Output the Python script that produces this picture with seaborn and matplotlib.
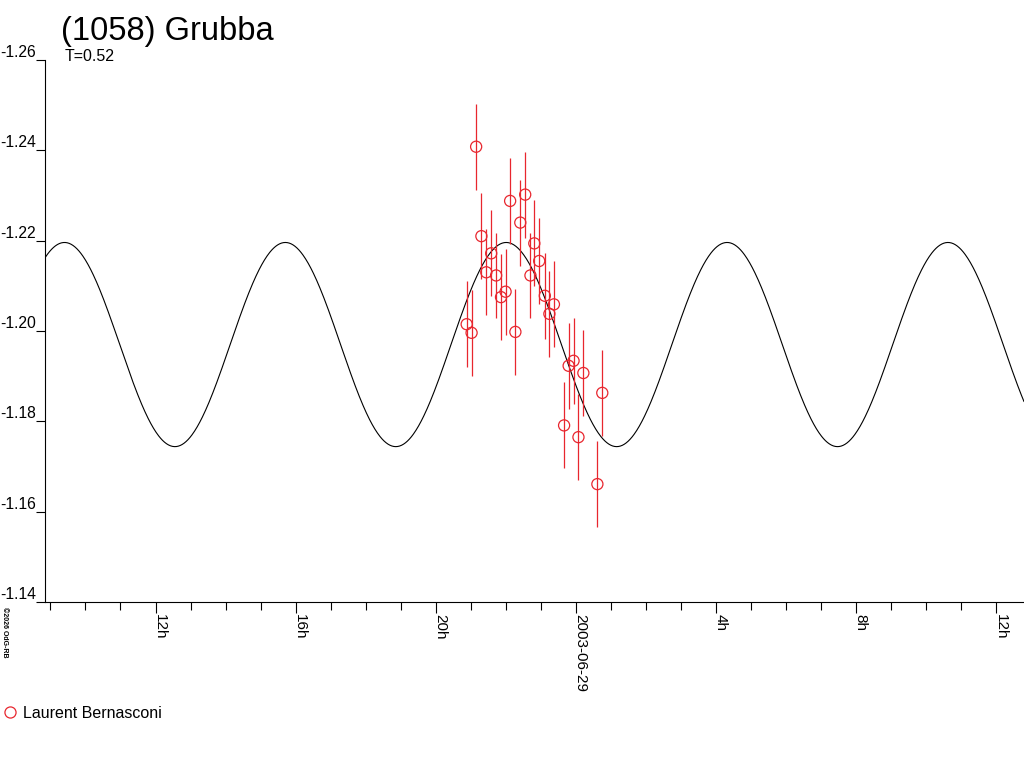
import numpy as np
import matplotlib
matplotlib.use('Agg')
import matplotlib.pyplot as plt
import matplotlib.transforms as mtransforms
from matplotlib.lines import Line2D
import seaborn as sns

# Observations, hours relative to 2003-06-29 00:00 UT
obs_hours = [-3.12, -2.98, -2.85, -2.70, -2.56, -2.42, -2.28, -2.14, -2.01,
             -1.88, -1.73, -1.59, -1.45, -1.30, -1.19, -1.05, -0.89, -0.76,
             -0.63, -0.34, -0.21, -0.07, 0.07, 0.21, 0.61, 0.75]
obs_mag = [-1.2015, -1.1996, -1.2408, -1.2210, -1.2130, -1.2172, -1.2123,
           -1.2075, -1.2087, -1.2288, -1.1998, -1.2240, -1.2302, -1.2123,
           -1.2194, -1.2155, -1.2078, -1.2038, -1.2059, -1.1791, -1.1923,
           -1.1934, -1.1765, -1.1907, -1.1661, -1.1863]
obs_err = [0.0095] * len(obs_hours)

# fitted lightcurve model
model_mean = -1.197
model_amp = 0.0226
model_period_h = 6.303
model_min_epoch_h = 1.16   # hour of faintest point

observer = 'Laurent Bernasconi'
title = '(1058) Grubba'
subtitle = 'T=0.52'

major_ticks = [-12, -8, -4, 0, 4, 8, 12]
major_labels = ['12h', '16h', '20h', '2003-06-29', '4h', '8h', '12h']
y_ticks = [-1.26, -1.24, -1.22, -1.20, -1.18, -1.16, -1.14]

red = '#e8262e'

sns.set_style('white')
plt.rcParams['font.family'] = ['Liberation Sans', 'DejaVu Sans']
plt.rcParams['text.color'] = 'black'
plt.rcParams['xtick.color'] = 'black'
plt.rcParams['ytick.color'] = 'black'

fig = plt.figure(figsize=(10.24, 7.68), dpi=100)
ax = fig.add_axes([45 / 1024, 166 / 768, 979 / 1024, 542 / 768])

xmin, xmax = -15.154, 12.785
t = np.linspace(xmin, xmax, 1500)
model = model_mean + model_amp * np.cos(2 * np.pi * (t - model_min_epoch_h) / model_period_h)
sns.lineplot(x=t, y=model, ax=ax, color='black', linewidth=0.8)

ax.errorbar(obs_hours, obs_mag, yerr=obs_err, fmt='none', ecolor=red,
            elinewidth=0.9, capsize=0)
sns.scatterplot(x=obs_hours, y=obs_mag, ax=ax, marker='o', s=64,
                facecolor='none', edgecolor=red, linewidth=0.9, zorder=5)

ax.set_xlim(xmin, xmax)
ax.set_ylim(-1.14, -1.26)

ax.set_yticks(y_ticks)
ax.set_yticklabels(['%.2f' % v for v in y_ticks], fontsize=11.3)
for lab in ax.get_yticklabels():
    lab.set_verticalalignment('bottom')
ax.tick_params(axis='y', left=True, direction='out', length=6.5, width=0.8, pad=0)

ax.set_xticks(major_ticks)
ax.set_xticklabels(major_labels, rotation=270, fontsize=11, va='top', ha='left')
ax.set_xticks(np.arange(-15, 13, 1), minor=True)
ax.tick_params(axis='x', which='major', bottom=True, direction='out', length=8, width=0.8, pad=1)
ax.tick_params(axis='x', which='minor', bottom=True, direction='out', length=5.8, width=0.8)
shift = mtransforms.ScaledTranslation(-3 / 100, 0, fig.dpi_scale_trans)
for lab in ax.get_xticklabels():
    lab.set_transform(lab.get_transform() + shift)

for side in ['top', 'right']:
    ax.spines[side].set_visible(False)
for side in ['left', 'bottom']:
    ax.spines[side].set_color('black')
    ax.spines[side].set_linewidth(0.8)
ax.set_xlabel('')
ax.set_ylabel('')

fig.text(0.060, 0.948, title, fontsize=23.5, ha='left', va='baseline')
fig.text(0.063, 0.920, subtitle, fontsize=11.5, ha='left', va='baseline')
fig.text(0.001, 0.21, '\u00a92026 OdG-RB', fontsize=5, rotation=270,
         ha='left', va='top', fontweight='bold')

handle = Line2D([], [], marker='o', linestyle='none', markersize=8,
                markerfacecolor='none', markeredgecolor=red, markeredgewidth=0.9)
fig.legend([handle], [observer], loc='center left', bbox_to_anchor=(-0.012, 1 - 713 / 768),
           frameon=False, fontsize=11.5, handlelength=1.0, handletextpad=0.3)

fig.savefig('out.png', dpi=100)
